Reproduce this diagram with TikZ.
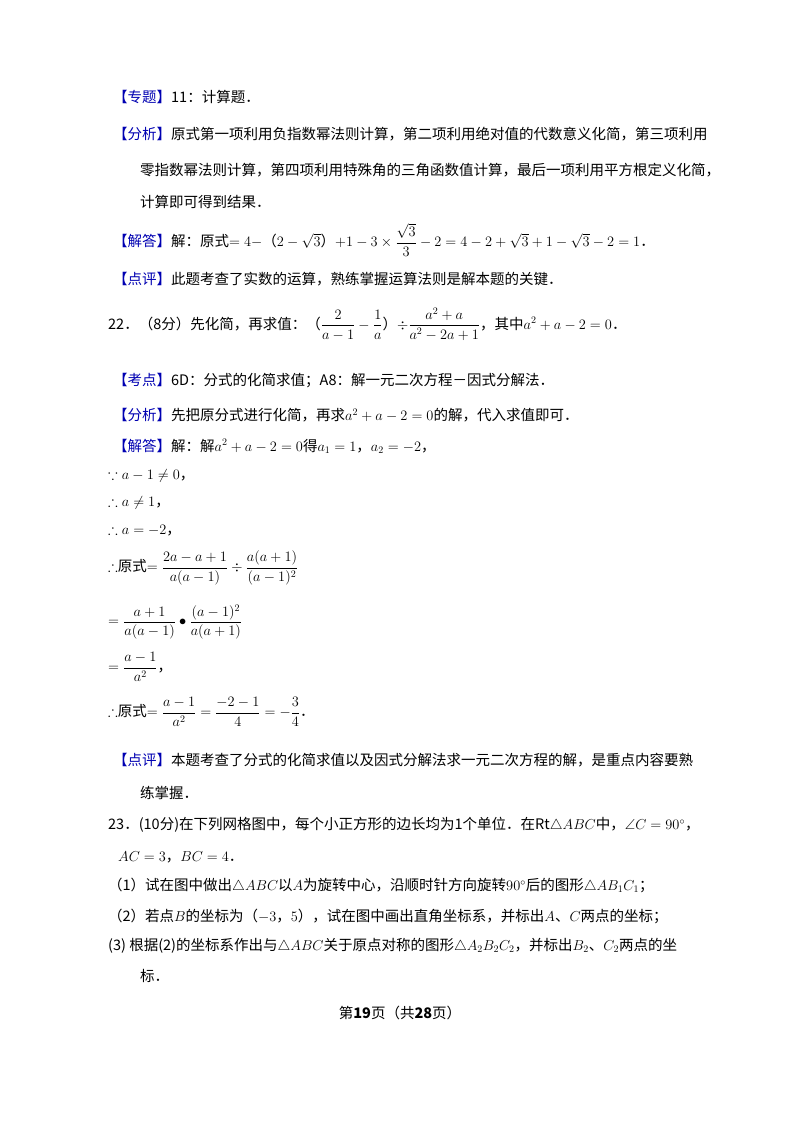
\documentclass[tikz,border=0pt]{standalone}
\usepackage{amsmath,amssymb}
\usepackage{fontspec}
\setmainfont{Liberation Serif}
\newfontfamily\cjk{Noto Sans CJK SC}
\newcommand{\bk}[1]{{\color{blue!70!black}【#1】}}
\begin{document}
\begin{tikzpicture}[x=1pt,y=-1pt,
  t/.style={anchor=west,inner sep=0pt,font=\cjk\fontsize{14.5}{17}\selectfont}]
\useasboundingbox (0,0) rectangle (800,1132);
\fill[white] (0,0) rectangle (800,1132);
\node[t] (l1) at (113,97) {\bk{专题}11：计算题．};
\node[t] (l2) at (113,134) {\bk{分析}原式第一项利用负指数幂法则计算，第二项利用绝对值的代数意义化简，第三项利用};
\node[t] (l3) at (140,170) {零指数幂法则计算，第四项利用特殊角的三角函数值计算，最后一项利用平方根定义化简，};
\node[t] (l4) at (140,202) {计算即可得到结果．};
\node[t] (l5) at (113,240) {\bk{解答}解：原式$=4-$（$2-\sqrt{3}$）$+1-3\times\dfrac{\sqrt{3}}{3}-2=4-2+\sqrt{3}+1-\sqrt{3}-2=1$．};
\node[t] (l6) at (113,279) {\bk{点评}此题考查了实数的运算，熟练掌握运算法则是解本题的关键．};
\node[t] (l7) at (108,324) {22．（8分）先化简，再求值：（$\dfrac{2}{a-1}-\dfrac{1}{a}$）$\div\dfrac{a^2+a}{a^2-2a+1}$，其中$a^2+a-2=0$．};
\node[t] (l8) at (113,381) {\bk{考点}6D：分式的化简求值；A8：解一元二次方程－因式分解法．};
\node[t] (l9) at (113,415) {\bk{分析}先把原分式进行化简，再求$a^2+a-2=0$的解，代入求值即可．};
\node[t] (l10) at (113,446) {\bk{解答}解：解$a^2+a-2=0$得$a_1=1$，$a_2=-2$，};
\node[t] (l11) at (108,476) {$\because a-1\neq0$，};
\node[t] (l12) at (108,503) {$\therefore a\neq1$，};
\node[t] (l13) at (108,530) {$\therefore a=-2$，};
\node[t] (l14) at (108,568) {$\therefore$原式$=\dfrac{2a-a+1}{a(a-1)}\div\dfrac{a(a+1)}{(a-1)^2}$};
\node[t] (l15) at (108,622) {$=\dfrac{a+1}{a(a-1)}\bullet\dfrac{(a-1)^2}{a(a+1)}$};
\node[t] (l16) at (108,667) {$=\dfrac{a-1}{a^2}$，};
\node[t] (l17) at (108,712) {$\therefore$原式$=\dfrac{a-1}{a^2}=\dfrac{-2-1}{4}=-\dfrac{3}{4}$．};
\node[t] (l18) at (113,760) {\bk{点评}本题考查了分式的化简求值以及因式分解法求一元二次方程的解，是重点内容要熟};
\node[t] (l19) at (140,793) {练掌握．};
\node[t] (l20) at (108,825) {23．(10分)在下列网格图中，每个小正方形的边长均为1个单位．在Rt$\triangle ABC$中，$\angle C=90^\circ$，};
\node[t] (l21) at (118,857) {$AC=3$，$BC=4$．};
\node[t] (l22) at (108,886) {（1）试在图中做出$\triangle ABC$以$A$为旋转中心，沿顺时针方向旋转$90^\circ$后的图形$\triangle AB_1C_1$；};
\node[t] (l23) at (108,916) {（2）若点$B$的坐标为（$-3$，$5$），试在图中画出直角坐标系，并标出$A$、$C$两点的坐标；};
\node[t] (l24) at (108,946) {(3) 根据(2)的坐标系作出与$\triangle ABC$关于原点对称的图形$\triangle A_2B_2C_2$，并标出$B_2$、$C_2$两点的坐};
\node[t] (l25) at (140,976) {标．};
\node[t,anchor=center] (f) at (400,1013) {第\textbf{19}页（共\textbf{28}页）};
\end{tikzpicture}
\end{document}
